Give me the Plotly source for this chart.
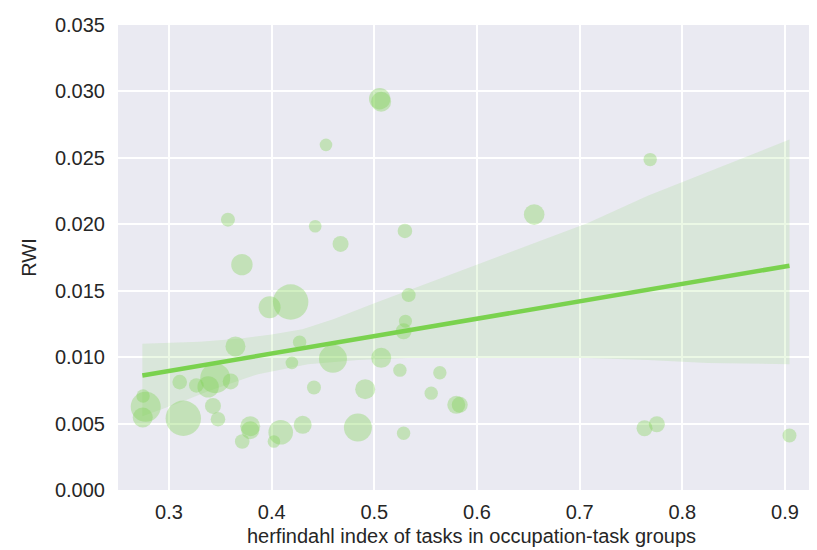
import plotly.graph_objects as go

# herfindahl index (x) and RWI (y) per occupation-task group, bubble weight
herfindahl = [0.2747, 0.2773, 0.2744, 0.3104, 0.3139, 0.3266, 0.3381, 0.3450, 0.3601, 0.3428,
              0.3477, 0.3647, 0.3574, 0.3710, 0.3713, 0.3791, 0.3791, 0.3980, 0.4185, 0.4022,
              0.4088, 0.4197, 0.4272, 0.4302, 0.4412, 0.4529, 0.4424, 0.4597, 0.4671, 0.4840,
              0.4911, 0.5052, 0.5066, 0.5067, 0.5249, 0.5298, 0.5285, 0.5303, 0.5334, 0.5285,
              0.5554, 0.5638, 0.5798, 0.5832, 0.6557, 0.7632, 0.7687, 0.7752, 0.9044]
rwi = [0.00708, 0.00626, 0.00546, 0.00812, 0.00540, 0.00787, 0.00776, 0.00842, 0.00817, 0.00633,
       0.00533, 0.01081, 0.02035, 0.01696, 0.00365, 0.00480, 0.00450, 0.01375, 0.01415, 0.00365,
       0.00435, 0.00957, 0.01113, 0.00491, 0.00772, 0.02598, 0.01985, 0.00987, 0.01852, 0.00470,
       0.00759, 0.02945, 0.02922, 0.00995, 0.00902, 0.01950, 0.01194, 0.01271, 0.01467, 0.00427,
       0.00729, 0.00882, 0.00641, 0.00641, 0.02073, 0.00465, 0.02487, 0.00495, 0.00410]
weight = [6.7, 15, 10, 7.3, 17.7, 7.3, 10.7, 15, 8, 8,
          7.3, 10, 7, 10.7, 7.3, 10, 9, 11, 17.7, 6.3,
          12.3, 6.3, 6.7, 9, 7, 6.3, 6.3, 14, 8, 14,
          10, 10.7, 10, 10, 6.7, 7.3, 8, 6.5, 7, 6.7,
          6.7, 6.7, 9, 8, 10.3, 8, 6.7, 8, 7]

# regression fit and confidence band
fit_x = [0.2740, 0.9044]
fit_y = [0.00862, 0.01688]
ci_upper_x = [0.2740, 0.3300, 0.3700, 0.4000, 0.4300, 0.4600, 0.5000, 0.5327, 0.5814, 0.6690, 0.7080, 0.7664, 0.9044]
ci_upper_y = [0.01100, 0.01115, 0.01140, 0.01170, 0.01210, 0.01285, 0.01405, 0.01505, 0.01645, 0.01897, 0.02010, 0.02214, 0.02638]
ci_lower_x = [0.2740, 0.3088, 0.3380, 0.3867, 0.4353, 0.4840, 0.5327, 0.6301, 0.7080, 0.7664, 0.8248, 0.9044]
ci_lower_y = [0.00555, 0.00653, 0.00744, 0.00872, 0.00947, 0.00978, 0.00993, 0.00993, 0.00993, 0.00978, 0.00955, 0.00947]

x_ticks = [0.3, 0.4, 0.5, 0.6, 0.7, 0.8, 0.9]
y_ticks = [0.000, 0.005, 0.010, 0.015, 0.020, 0.025, 0.030, 0.035]

GREEN = "rgb(122,210,78)"
FONT = "Liberation Sans, Arial, sans-serif"

fig = go.Figure()
band_x = ci_lower_x + ci_upper_x[::-1]
band_y = ci_lower_y + ci_upper_y[::-1]
fig.add_trace(go.Scatter(x=band_x, y=band_y, fill="toself", mode="lines",
                         line=dict(width=0), fillcolor="rgba(122,210,78,0.15)",
                         hoverinfo="skip", showlegend=False))
fig.add_trace(go.Scatter(x=herfindahl, y=rwi, mode="markers",
                         marker=dict(size=[2 * w for w in weight], sizemode="diameter",
                                     color="rgba(122,210,78,0.5)", line=dict(width=0)),
                         showlegend=False))
fig.add_trace(go.Scatter(x=fit_x, y=fit_y, mode="lines",
                         line=dict(color=GREEN, width=4.5), showlegend=False))

fig.update_layout(
    width=817, height=550,
    margin=dict(l=110, r=0, t=17, b=68),
    paper_bgcolor="white", plot_bgcolor="#EAEAF2",
    font=dict(family=FONT, size=20, color="#262626"),
)
fig.update_xaxes(range=[0.2503, 0.939], tickvals=x_ticks, tickformat=".1f",
                 showgrid=True, gridcolor="white", gridwidth=1.6, zeroline=False,
                 showline=False, ticks="", ticklabelstandoff=8,
                 title=dict(text="herfindahl index of tasks in occupation-task groups",
                            font=dict(size=20), standoff=6))
fig.update_yaxes(range=[0, 0.035], tickvals=y_ticks, tickformat=".3f",
                 showgrid=True, gridcolor="white", gridwidth=1.6, zeroline=False,
                 showline=False, ticks="", ticklabelstandoff=12,
                 title=dict(text="RWI", font=dict(size=20), standoff=12))

fig.write_html("out.html")
